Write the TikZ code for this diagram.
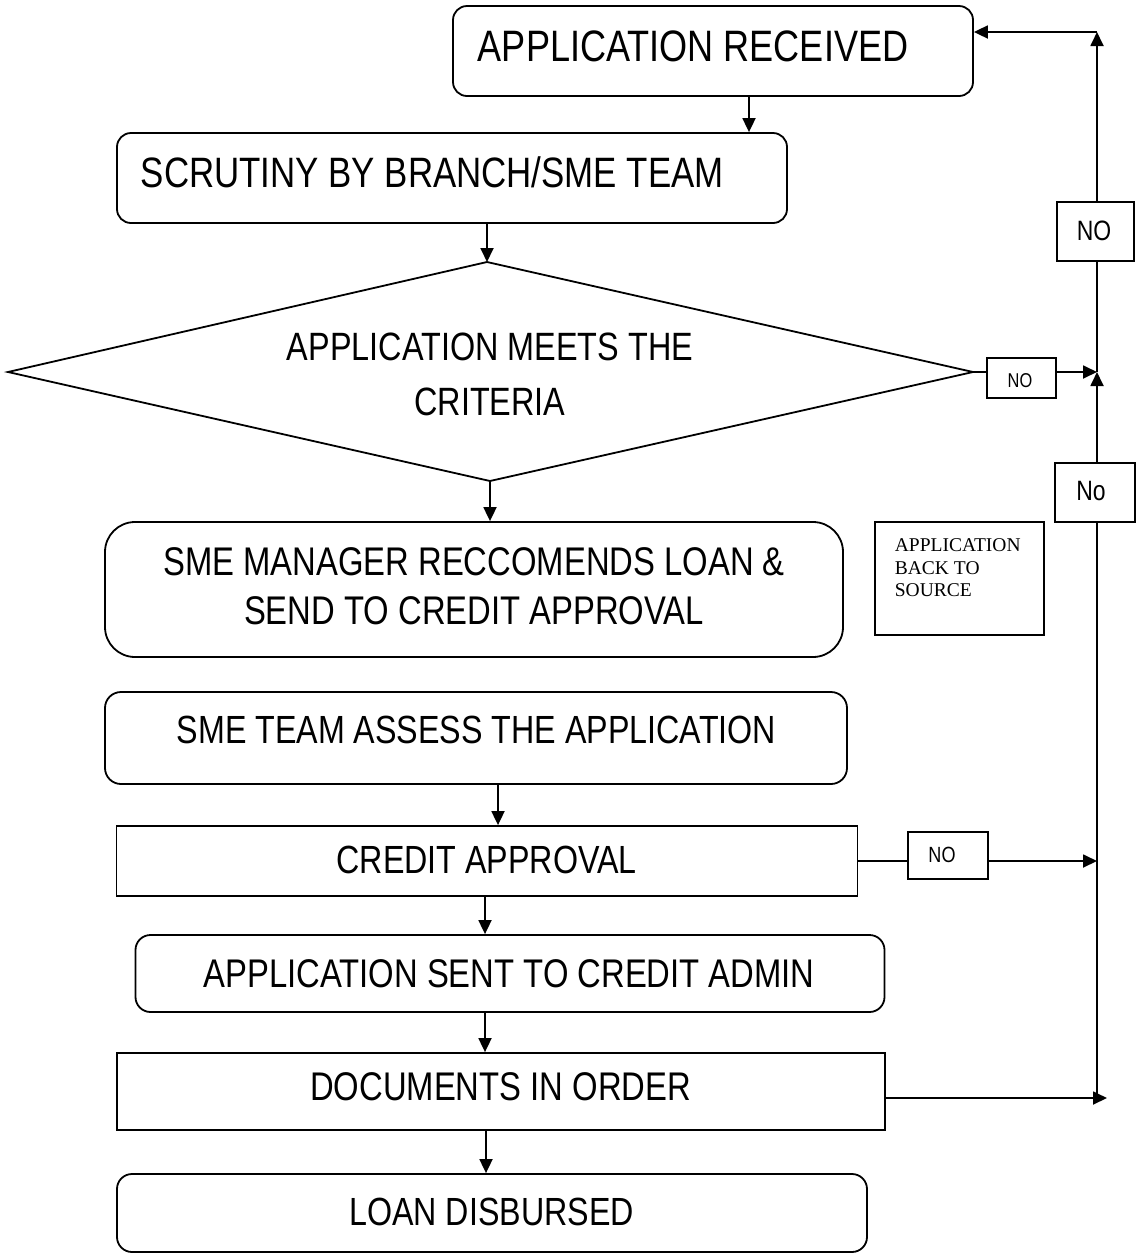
\documentclass[tikz,border=0pt]{standalone}
\usepackage{fontspec}
\newfontfamily\nar{Liberation Sans}[FakeStretch=0.82]
\newfontfamily\tms{Liberation Serif}
\usetikzlibrary{arrows.meta}
\begin{document}
\begin{tikzpicture}[x=1pt,y=-1pt,line width=1.8pt,
  rbox/.style={draw,rounded corners=#1,inner sep=0pt,fill=white},
  sbox/.style={draw,inner sep=0pt,fill=white},
  txt/.style={font=\nar\fontsize{#1}{#1}\selectfont,inner sep=0pt},
  arr/.style={-{Triangle[length=14pt,width=13pt]}}]
\useasboundingbox (0,0) rectangle (1139,1254);
% main boxes
\node[rbox=14pt,minimum width=520,minimum height=90] (recv) at (713,51) {};
\node[txt=44,anchor=base west] (recvT) at (477,61) {APPLICATION RECEIVED};
\node[rbox=14pt,minimum width=670,minimum height=90] (scrut) at (452,178) {};
\node[txt=42.5,anchor=base west] (scrutT) at (140,187) {SCRUTINY BY BRANCH/SME TEAM};
% diamond
\coordinate (dL) at (8,372);
\coordinate (dT) at (487,262);
\coordinate (dR) at (973,372);
\coordinate (dB) at (490,481);
\draw (dL) -- (dT) -- (dR) -- (dB) -- cycle;
\node[txt=39.5,anchor=base] (critA) at (490,360) {APPLICATION MEETS THE};
\node[txt=39.5,anchor=base] (critB) at (490,415.7) {CRITERIA};
\node[rbox=30pt,minimum width=738,minimum height=135] (mgr) at (474,589.5) {};
\node[txt=40,anchor=base] (mgrA) at (474,575) {SME MANAGER RECCOMENDS LOAN \&};
\node[txt=40,anchor=base] (mgrB) at (474,624.3) {SEND TO CREDIT APPROVAL};
\node[rbox=16pt,minimum width=742,minimum height=92] (assess) at (476,738) {};
\node[txt=39.3,anchor=base] (assessT) at (476.4,743.3) {SME TEAM ASSESS THE APPLICATION};
\node[sbox,minimum width=741,minimum height=70] (credit) at (487,861) {};
\node[txt=39.3,anchor=base] (creditT) at (486.7,873.3) {CREDIT APPROVAL};
\node[rbox=15pt,minimum width=749,minimum height=77] (sent) at (510,973.5) {};
\node[txt=40,anchor=base] (sentT) at (509,987.3) {APPLICATION SENT TO CREDIT ADMIN};
\node[sbox,minimum width=768,minimum height=77] (docs) at (501,1091.5) {};
\node[txt=40,anchor=base] (docsT) at (500.6,1100.7) {DOCUMENTS IN ORDER};
\node[rbox=15pt,minimum width=750,minimum height=78] (loan) at (492,1213) {};
\node[txt=39.3,anchor=base] (loanT) at (491.5,1225) {LOAN DISBURSED};
% side boxes
\node[sbox,minimum width=77,minimum height=59] (noTop) at (1095.5,231.5) {};
\node[txt=28] (noTopT) at (1094,231) {NO};
\node[sbox,minimum width=69,minimum height=40] (noSmall) at (1021.5,378) {};
\node[txt=20] (noSmallT) at (1020,381) {NO};
\node[sbox,minimum width=80,minimum height=59] (noNo) at (1095,492.5) {};
\node[txt=28] (noNoT) at (1091,491) {No};
\node[sbox,minimum width=80,minimum height=47] (noCred) at (948,855.5) {};
\node[txt=22] (noCredT) at (942,855) {NO};
\node[sbox,minimum width=169,minimum height=113] (back) at (959.5,578.5) {};
\node[font=\tms\fontsize{19.5}{22.5}\selectfont,inner sep=0pt,align=left,anchor=north west] (backT) at (894,538) {APPLICATION\\BACK TO\\SOURCE};
% helper coordinates
\coordinate (xa) at (749,0);
\coordinate (xb) at (498,0);
\coordinate (xc) at (485,0);
\coordinate (xd) at (486,0);
\coordinate (vb) at (1097,1098);
\coordinate (j1) at (1097,372);
\coordinate (tc) at (1097,32);
\coordinate (cj) at (1097,861);
\coordinate (de) at (1107,1098);
% main flow
\draw[arr] (recv.south -| xa) -- (scrut.north -| xa);
\draw[arr] (scrut.south -| dT) -- (dT);
\draw[arr] (dB) -- (mgr.north -| dB);
\draw[arr] (assess.south -| xb) -- (credit.north -| xb);
\draw[arr] (credit.south -| xc) -- (sent.north -| xc);
\draw[arr] (sent.south -| xc) -- (docs.north -| xc);
\draw[arr] (docs.south -| xd) -- (loan.north -| xd);
% return path
\draw (dR) -- (noSmall.west |- dR);
\draw[arr] (noSmall.east |- j1) -- (j1);
\draw (vb) -- (noNo.south -| vb);
\draw[arr] (noNo.north -| vb) -- (j1);
\draw (j1) -- (noTop.south -| j1);
\draw[arr] (noTop.north -| j1) -- (tc);
\draw[arr] (tc) -- (recv.east |- tc);
\draw (credit.east) -- (noCred.west |- credit.east);
\draw[arr] (noCred.east |- cj) -- (cj);
\draw[arr] (docs.east |- de) -- (de);
\end{tikzpicture}
\end{document}
